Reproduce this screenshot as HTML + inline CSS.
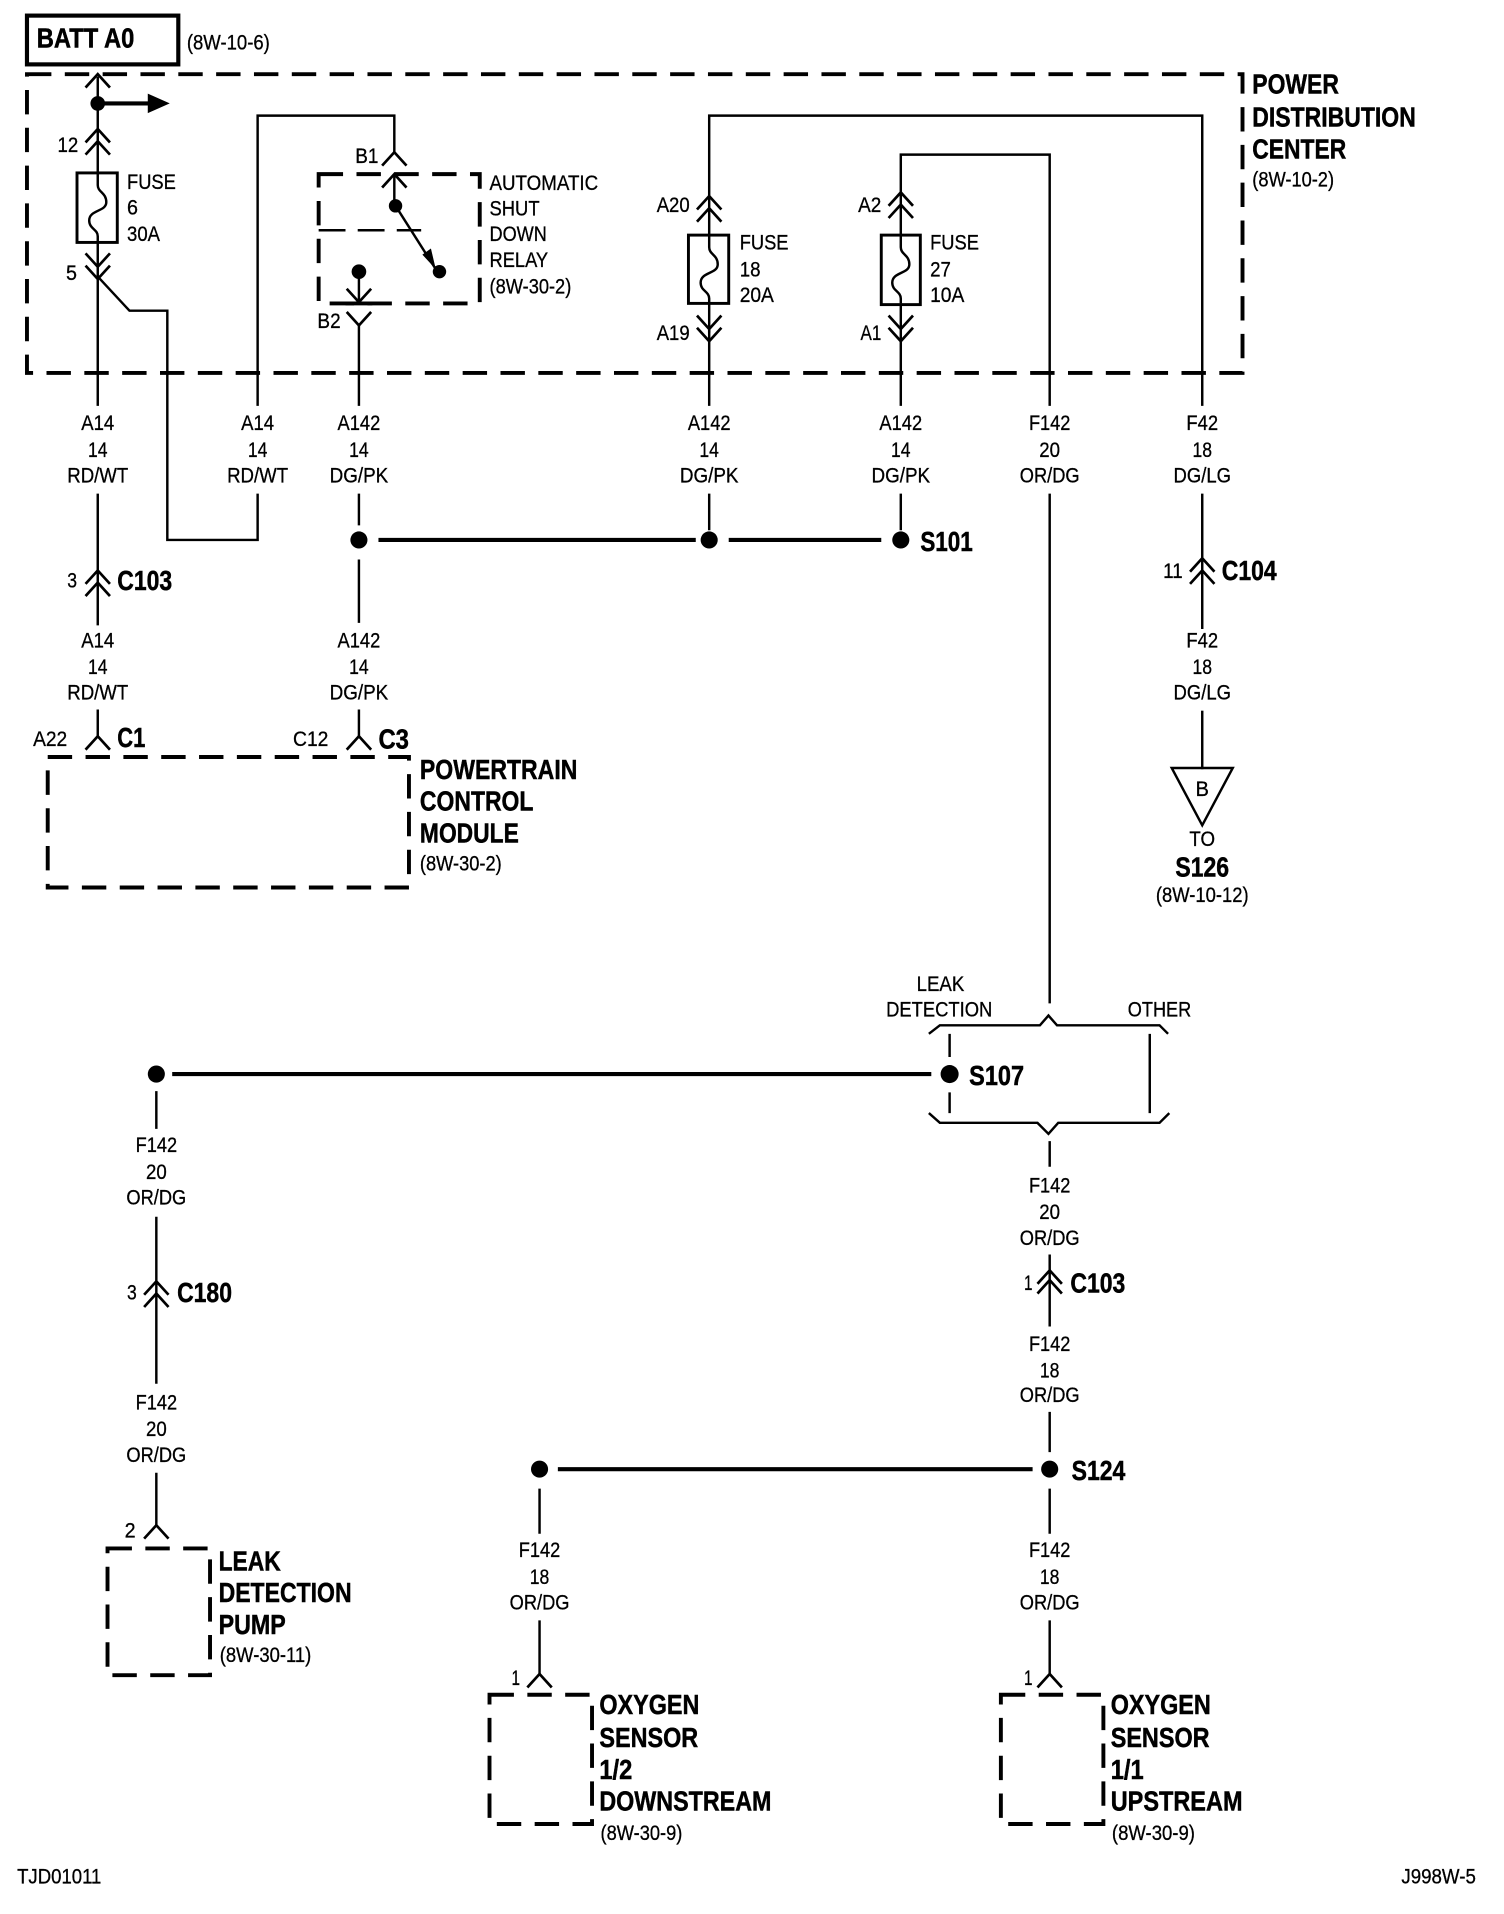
<!DOCTYPE html>
<html><head><meta charset="utf-8"><style>
html,body{margin:0;padding:0;background:#fff}
svg{display:block}
text{font-family:"Liberation Sans",sans-serif;fill:#000;font-size:17.5px;stroke:#000;stroke-width:.25px}
.b{font-weight:bold;font-size:23px;stroke-width:.4px}
.m{text-anchor:middle}
.w{fill:none;stroke:#000;stroke-width:2;stroke-linejoin:miter}
.h{fill:none;stroke:#000;stroke-width:3.4}
.d{fill:none;stroke:#000;stroke-width:3.2;stroke-dasharray:20 11}
</style></head><body>
<svg xmlns="http://www.w3.org/2000/svg" xmlns:xlink="http://www.w3.org/1999/xlink" width="1504" height="1914" viewBox="0 0 1231 1566" preserveAspectRatio="none">
<defs>
<polyline id="u" points="-10,11 0,0 10,11" fill="none" stroke="#000" stroke-width="2.2"/>
<polyline id="n" points="-10,-11 0,0 10,-11" fill="none" stroke="#000" stroke-width="2.2"/>
<path id="f" d="M0,-28 V-18 C0,-12 7,-12 7,-4 C7,4 -7,2 -7,11 C-7,18 0,18 0,24 V28" fill="none" stroke="#000" stroke-width="2"/>
</defs>
<rect width="1231" height="1566" fill="#fff" stroke="none"/>
<g transform="matrix(.9989,0,0,.9977,-.9,.8)">

<!-- BATT -->
<rect x="23" y="12" width="124" height="40" fill="none" stroke="#000" stroke-width="3.4"/>
<text class="b" x="31" y="38" textLength="80" lengthAdjust="spacingAndGlyphs">BATT A0</text>
<text x="154" y="40" textLength="68" lengthAdjust="spacingAndGlyphs">(8W-10-6)</text>

<!-- PDC -->
<rect class="d" x="23" y="60" width="996" height="245"/>
<text class="b" x="1027" y="76" textLength="71" lengthAdjust="spacingAndGlyphs">POWER</text>
<text class="b" x="1027" y="103" textLength="134" lengthAdjust="spacingAndGlyphs">DISTRIBUTION</text>
<text class="b" x="1027" y="129" textLength="77" lengthAdjust="spacingAndGlyphs">CENTER</text>
<text x="1027" y="152" textLength="67" lengthAdjust="spacingAndGlyphs">(8W-10-2)</text>

<!-- Fuse 6 -->
<path class="w" d="M81,62 V141 M81,197 V332"/>
<use xlink:href="#u" href="#u" x="81" y="60"/>
<circle cx="81" cy="84" r="6"/>
<path class="h" d="M81,84 H124"/>
<polygon points="122,76 140,84 122,92"/>
<use xlink:href="#u" href="#u" x="81" y="105"/>
<use xlink:href="#u" href="#u" x="81" y="115"/>
<rect x="64" y="141" width="33" height="57" fill="#fff" stroke="#000" stroke-width="2.4"/>
<use xlink:href="#f" href="#f" x="81" y="169"/>
<use xlink:href="#n" href="#n" x="81" y="218"/>
<use xlink:href="#n" href="#n" x="81" y="228"/>
<path class="w" d="M81,226 L107,254 H138 V442 H212 V404"/>
<text x="48" y="124" textLength="17" lengthAdjust="spacingAndGlyphs">12</text>
<text x="55" y="229" textLength="9" lengthAdjust="spacingAndGlyphs">5</text>
<text x="105" y="154" textLength="40" lengthAdjust="spacingAndGlyphs">FUSE</text>
<text x="105" y="175" textLength="9" lengthAdjust="spacingAndGlyphs">6</text>
<text x="105" y="197" textLength="27" lengthAdjust="spacingAndGlyphs">30A</text>

<!-- A14 second -->
<path class="w" d="M212,332 V94 H324 V124"/>

<!-- Relay -->
<use xlink:href="#u" href="#u" x="324" y="124"/>
<text x="292" y="133" textLength="19" lengthAdjust="spacingAndGlyphs">B1</text>
<rect class="d" x="262" y="142" width="132" height="106"/>
<path d="M262,188 H346" fill="none" stroke="#000" stroke-width="2" stroke-dasharray="22 10"/>
<use xlink:href="#u" href="#u" x="324" y="142"/>
<path class="w" d="M324,142 V168"/>
<circle cx="325" cy="168" r="5.5"/>
<path class="w" d="M325,168 L358,220"/>
<polygon points="347,208 358,220 354,203"/>
<circle cx="361" cy="222" r="5.5"/>
<circle cx="295" cy="222" r="6"/>
<path class="w" d="M295,222 V247"/>
<use xlink:href="#n" href="#n" x="295" y="247"/>
<path d="M284,248 H306" stroke="#000" stroke-width="3.2"/>
<use xlink:href="#n" href="#n" x="295" y="266"/>
<path class="w" d="M295,266 V332"/>
<text x="261" y="268" textLength="19" lengthAdjust="spacingAndGlyphs">B2</text>
<text x="402" y="155" textLength="89" lengthAdjust="spacingAndGlyphs">AUTOMATIC</text>
<text x="402" y="176" textLength="41" lengthAdjust="spacingAndGlyphs">SHUT</text>
<text x="402" y="197" textLength="47" lengthAdjust="spacingAndGlyphs">DOWN</text>
<text x="402" y="218" textLength="48" lengthAdjust="spacingAndGlyphs">RELAY</text>
<text x="402" y="240" textLength="67" lengthAdjust="spacingAndGlyphs">(8W-30-2)</text>

<!-- Fuse 18 -->
<path class="w" d="M582,332 V270 M582,248 V192 M582,170 V94 H986 V332"/>
<use xlink:href="#u" href="#u" x="582" y="160"/>
<use xlink:href="#u" href="#u" x="582" y="170"/>
<path class="w" d="M582,170 V192 M582,248 V272"/>
<rect x="565" y="192" width="33" height="56" fill="#fff" stroke="#000" stroke-width="2.4"/>
<use xlink:href="#f" href="#f" x="582" y="220"/>
<use xlink:href="#n" href="#n" x="582" y="269"/>
<use xlink:href="#n" href="#n" x="582" y="279"/>
<text x="539" y="173" textLength="27" lengthAdjust="spacingAndGlyphs">A20</text>
<text x="539" y="278" textLength="27" lengthAdjust="spacingAndGlyphs">A19</text>
<text x="607" y="204" textLength="40" lengthAdjust="spacingAndGlyphs">FUSE</text>
<text x="607" y="226" textLength="17" lengthAdjust="spacingAndGlyphs">18</text>
<text x="607" y="247" textLength="28" lengthAdjust="spacingAndGlyphs">20A</text>

<!-- Fuse 27 -->
<path class="w" d="M739,332 V248 M739,192 V126 H861 V332"/>
<use xlink:href="#u" href="#u" x="739" y="157"/>
<use xlink:href="#u" href="#u" x="739" y="167"/>
<rect x="723" y="192" width="32" height="57" fill="#fff" stroke="#000" stroke-width="2.4"/>
<use xlink:href="#f" href="#f" x="739" y="220"/>
<use xlink:href="#n" href="#n" x="739" y="269"/>
<use xlink:href="#n" href="#n" x="739" y="279"/>
<text x="704" y="173" textLength="19" lengthAdjust="spacingAndGlyphs">A2</text>
<text x="706" y="278" textLength="17" lengthAdjust="spacingAndGlyphs">A1</text>
<text x="763" y="204" textLength="40" lengthAdjust="spacingAndGlyphs">FUSE</text>
<text x="763" y="226" textLength="17" lengthAdjust="spacingAndGlyphs">27</text>
<text x="763" y="247" textLength="28" lengthAdjust="spacingAndGlyphs">10A</text>

<!-- wire labels row 1 -->
<text class="m" x="81" y="352" textLength="27" lengthAdjust="spacingAndGlyphs">A14</text>
<text class="m" x="81" y="374" textLength="16" lengthAdjust="spacingAndGlyphs">14</text>
<text class="m" x="81" y="395" textLength="50" lengthAdjust="spacingAndGlyphs">RD/WT</text>
<text class="m" x="212" y="352" textLength="27" lengthAdjust="spacingAndGlyphs">A14</text>
<text class="m" x="212" y="374" textLength="16" lengthAdjust="spacingAndGlyphs">14</text>
<text class="m" x="212" y="395" textLength="50" lengthAdjust="spacingAndGlyphs">RD/WT</text>
<text class="m" x="295" y="352" textLength="35" lengthAdjust="spacingAndGlyphs">A142</text>
<text class="m" x="295" y="374" textLength="16" lengthAdjust="spacingAndGlyphs">14</text>
<text class="m" x="295" y="395" textLength="48" lengthAdjust="spacingAndGlyphs">DG/PK</text>
<text class="m" x="582" y="352" textLength="35" lengthAdjust="spacingAndGlyphs">A142</text>
<text class="m" x="582" y="374" textLength="16" lengthAdjust="spacingAndGlyphs">14</text>
<text class="m" x="582" y="395" textLength="48" lengthAdjust="spacingAndGlyphs">DG/PK</text>
<text class="m" x="739" y="352" textLength="35" lengthAdjust="spacingAndGlyphs">A142</text>
<text class="m" x="739" y="374" textLength="16" lengthAdjust="spacingAndGlyphs">14</text>
<text class="m" x="739" y="395" textLength="48" lengthAdjust="spacingAndGlyphs">DG/PK</text>
<text class="m" x="861" y="352" textLength="34" lengthAdjust="spacingAndGlyphs">F142</text>
<text class="m" x="861" y="374" textLength="17" lengthAdjust="spacingAndGlyphs">20</text>
<text class="m" x="861" y="395" textLength="49" lengthAdjust="spacingAndGlyphs">OR/DG</text>
<text class="m" x="986" y="352" textLength="26" lengthAdjust="spacingAndGlyphs">F42</text>
<text class="m" x="986" y="374" textLength="16" lengthAdjust="spacingAndGlyphs">18</text>
<text class="m" x="986" y="395" textLength="47" lengthAdjust="spacingAndGlyphs">DG/LG</text>

<!-- wires below labels -->
<path class="w" d="M81,404 V512 M295,404 V430 M295,458 V510 M582,404 V434 M739,404 V434 M861,404 V822 M986,404 V515"/>
<use xlink:href="#u" href="#u" x="81" y="467"/>
<use xlink:href="#u" href="#u" x="81" y="477"/>
<text x="56" y="481" textLength="8" lengthAdjust="spacingAndGlyphs">3</text>
<text class="b" x="97" y="483" textLength="45" lengthAdjust="spacingAndGlyphs">C103</text>
<text class="m" x="81" y="530" textLength="27" lengthAdjust="spacingAndGlyphs">A14</text>
<text class="m" x="81" y="552" textLength="16" lengthAdjust="spacingAndGlyphs">14</text>
<text class="m" x="81" y="573" textLength="50" lengthAdjust="spacingAndGlyphs">RD/WT</text>
<text class="m" x="295" y="530" textLength="35" lengthAdjust="spacingAndGlyphs">A142</text>
<text class="m" x="295" y="552" textLength="16" lengthAdjust="spacingAndGlyphs">14</text>
<text class="m" x="295" y="573" textLength="48" lengthAdjust="spacingAndGlyphs">DG/PK</text>

<!-- S101 -->
<circle cx="295" cy="442" r="7"/><circle cx="582" cy="442" r="7"/><circle cx="739" cy="442" r="7"/>
<path class="h" d="M311,442 H571 M598,442 H723"/>
<text class="b" x="755" y="451" textLength="43" lengthAdjust="spacingAndGlyphs">S101</text>

<!-- PCM -->
<path class="w" d="M81,581 V604 M295,581 V604"/>
<use xlink:href="#u" href="#u" x="81" y="603"/>
<use xlink:href="#u" href="#u" x="295" y="603"/>
<text x="28" y="611" textLength="28" lengthAdjust="spacingAndGlyphs">A22</text>
<text x="241" y="611" textLength="29" lengthAdjust="spacingAndGlyphs">C12</text>
<text class="b" x="97" y="612" textLength="23" lengthAdjust="spacingAndGlyphs">C1</text>
<text class="b" x="311" y="613" textLength="25" lengthAdjust="spacingAndGlyphs">C3</text>
<rect class="d" x="40" y="620" width="296" height="107"/>
<text class="b" x="345" y="638" textLength="129" lengthAdjust="spacingAndGlyphs">POWERTRAIN</text>
<text class="b" x="345" y="664" textLength="93" lengthAdjust="spacingAndGlyphs">CONTROL</text>
<text class="b" x="345" y="690" textLength="81" lengthAdjust="spacingAndGlyphs">MODULE</text>
<text x="345" y="713" textLength="67" lengthAdjust="spacingAndGlyphs">(8W-30-2)</text>

<!-- C104 -->
<use xlink:href="#u" href="#u" x="986" y="457"/>
<use xlink:href="#u" href="#u" x="986" y="467"/>
<text x="954" y="473" textLength="16" lengthAdjust="spacingAndGlyphs">11</text>
<text class="b" x="1002" y="475" textLength="45" lengthAdjust="spacingAndGlyphs">C104</text>
<text class="m" x="986" y="530" textLength="26" lengthAdjust="spacingAndGlyphs">F42</text>
<text class="m" x="986" y="552" textLength="16" lengthAdjust="spacingAndGlyphs">18</text>
<text class="m" x="986" y="573" textLength="47" lengthAdjust="spacingAndGlyphs">DG/LG</text>
<path class="w" d="M986,582 V630"/>
<polygon points="961,629 1011,629 986,676" fill="none" stroke="#000" stroke-width="2"/>
<text class="m" x="986" y="652" textLength="11" lengthAdjust="spacingAndGlyphs">B</text>
<text class="m" x="986" y="693" textLength="21" lengthAdjust="spacingAndGlyphs">TO</text>
<text class="b m" x="986" y="718" textLength="44" lengthAdjust="spacingAndGlyphs">S126</text>
<text class="m" x="986" y="739" textLength="76" lengthAdjust="spacingAndGlyphs">(8W-10-12)</text>

<!-- S107 -->
<text x="752" y="812" textLength="39" lengthAdjust="spacingAndGlyphs">LEAK</text>
<text x="727" y="833" textLength="87" lengthAdjust="spacingAndGlyphs">DETECTION</text>
<text x="925" y="833" textLength="52" lengthAdjust="spacingAndGlyphs">OTHER</text>
<polyline class="w" points="762,847 771,840 853,840 860,832 867,840 951,840 958,847"/>
<polyline class="w" points="762,912 771,920 851,920 860,929 868,920 951,920 959,912"/>
<path class="w" d="M779,847 V866 M779,895 V912 M943,847 V912"/>
<circle cx="779" cy="880" r="7.4"/>
<path class="h" d="M142,880 H764"/>
<circle cx="129" cy="880" r="7"/>
<text class="b" x="795" y="889" textLength="45" lengthAdjust="spacingAndGlyphs">S107</text>

<!-- Leak pump -->
<path class="w" d="M129,894 V925 M129,997 V1134 M129,1207 V1250"/>
<text class="m" x="129" y="944" textLength="34" lengthAdjust="spacingAndGlyphs">F142</text>
<text class="m" x="129" y="966" textLength="17" lengthAdjust="spacingAndGlyphs">20</text>
<text class="m" x="129" y="987" textLength="49" lengthAdjust="spacingAndGlyphs">OR/DG</text>
<use xlink:href="#u" href="#u" x="129" y="1050"/>
<use xlink:href="#u" href="#u" x="129" y="1060"/>
<text x="105" y="1065" textLength="8" lengthAdjust="spacingAndGlyphs">3</text>
<text class="b" x="146" y="1067" textLength="45" lengthAdjust="spacingAndGlyphs">C180</text>
<text class="m" x="129" y="1155" textLength="34" lengthAdjust="spacingAndGlyphs">F142</text>
<text class="m" x="129" y="1177" textLength="17" lengthAdjust="spacingAndGlyphs">20</text>
<text class="m" x="129" y="1198" textLength="49" lengthAdjust="spacingAndGlyphs">OR/DG</text>
<use xlink:href="#u" href="#u" x="129" y="1250"/>
<text x="103" y="1260" textLength="9" lengthAdjust="spacingAndGlyphs">2</text>
<rect class="d" x="89" y="1269" width="84" height="104"/>
<text class="b" x="180" y="1287" textLength="51" lengthAdjust="spacingAndGlyphs">LEAK</text>
<text class="b" x="180" y="1313" textLength="109" lengthAdjust="spacingAndGlyphs">DETECTION</text>
<text class="b" x="180" y="1339" textLength="55" lengthAdjust="spacingAndGlyphs">PUMP</text>
<text x="181" y="1362" textLength="75" lengthAdjust="spacingAndGlyphs">(8W-30-11)</text>

<!-- Right trunk -->
<path class="w" d="M861,935 V956 M861,1028 V1087 M861,1157 V1190 M861,1220 V1257 M861,1328 V1372 M443,1220 V1257 M443,1328 V1372"/>
<text class="m" x="861" y="977" textLength="34" lengthAdjust="spacingAndGlyphs">F142</text>
<text class="m" x="861" y="999" textLength="17" lengthAdjust="spacingAndGlyphs">20</text>
<text class="m" x="861" y="1020" textLength="49" lengthAdjust="spacingAndGlyphs">OR/DG</text>
<use xlink:href="#u" href="#u" x="861" y="1041"/>
<use xlink:href="#u" href="#u" x="861" y="1049"/>
<text x="840" y="1057" textLength="7" lengthAdjust="spacingAndGlyphs">1</text>
<text class="b" x="878" y="1059" textLength="45" lengthAdjust="spacingAndGlyphs">C103</text>
<text class="m" x="861" y="1107" textLength="34" lengthAdjust="spacingAndGlyphs">F142</text>
<text class="m" x="861" y="1129" textLength="16" lengthAdjust="spacingAndGlyphs">18</text>
<text class="m" x="861" y="1149" textLength="49" lengthAdjust="spacingAndGlyphs">OR/DG</text>

<!-- S124 -->
<circle cx="443" cy="1204" r="7"/><circle cx="861" cy="1204" r="7"/>
<path class="h" d="M458,1204 H847"/>
<text class="b" x="879" y="1213" textLength="44" lengthAdjust="spacingAndGlyphs">S124</text>

<text class="m" x="443" y="1276" textLength="34" lengthAdjust="spacingAndGlyphs">F142</text>
<text class="m" x="443" y="1298" textLength="16" lengthAdjust="spacingAndGlyphs">18</text>
<text class="m" x="443" y="1319" textLength="49" lengthAdjust="spacingAndGlyphs">OR/DG</text>
<text class="m" x="861" y="1276" textLength="34" lengthAdjust="spacingAndGlyphs">F142</text>
<text class="m" x="861" y="1298" textLength="16" lengthAdjust="spacingAndGlyphs">18</text>
<text class="m" x="861" y="1319" textLength="49" lengthAdjust="spacingAndGlyphs">OR/DG</text>

<use xlink:href="#u" href="#u" x="443" y="1372"/>
<use xlink:href="#u" href="#u" x="861" y="1372"/>
<text x="420" y="1381" textLength="7" lengthAdjust="spacingAndGlyphs">1</text>
<text x="840" y="1381" textLength="7" lengthAdjust="spacingAndGlyphs">1</text>
<rect class="d" x="402" y="1389" width="84" height="106"/>
<rect class="d" x="821" y="1389" width="84" height="106"/>
<text class="b" x="492" y="1405" textLength="82" lengthAdjust="spacingAndGlyphs">OXYGEN</text>
<text class="b" x="492" y="1432" textLength="81" lengthAdjust="spacingAndGlyphs">SENSOR</text>
<text class="b" x="492" y="1458" textLength="27" lengthAdjust="spacingAndGlyphs">1/2</text>
<text class="b" x="492" y="1484" textLength="141" lengthAdjust="spacingAndGlyphs">DOWNSTREAM</text>
<text x="493" y="1508" textLength="67" lengthAdjust="spacingAndGlyphs">(8W-30-9)</text>
<text class="b" x="911" y="1405" textLength="82" lengthAdjust="spacingAndGlyphs">OXYGEN</text>
<text class="b" x="911" y="1432" textLength="81" lengthAdjust="spacingAndGlyphs">SENSOR</text>
<text class="b" x="911" y="1458" textLength="27" lengthAdjust="spacingAndGlyphs">1/1</text>
<text class="b" x="911" y="1484" textLength="108" lengthAdjust="spacingAndGlyphs">UPSTREAM</text>
<text x="912" y="1508" textLength="68" lengthAdjust="spacingAndGlyphs">(8W-30-9)</text>
</g>

<!-- Footer -->
<text x="14" y="1541" textLength="69" lengthAdjust="spacingAndGlyphs">TJD01011</text>
<text x="1147" y="1541" textLength="61" lengthAdjust="spacingAndGlyphs">J998W-5</text>
</svg>
</body></html>
